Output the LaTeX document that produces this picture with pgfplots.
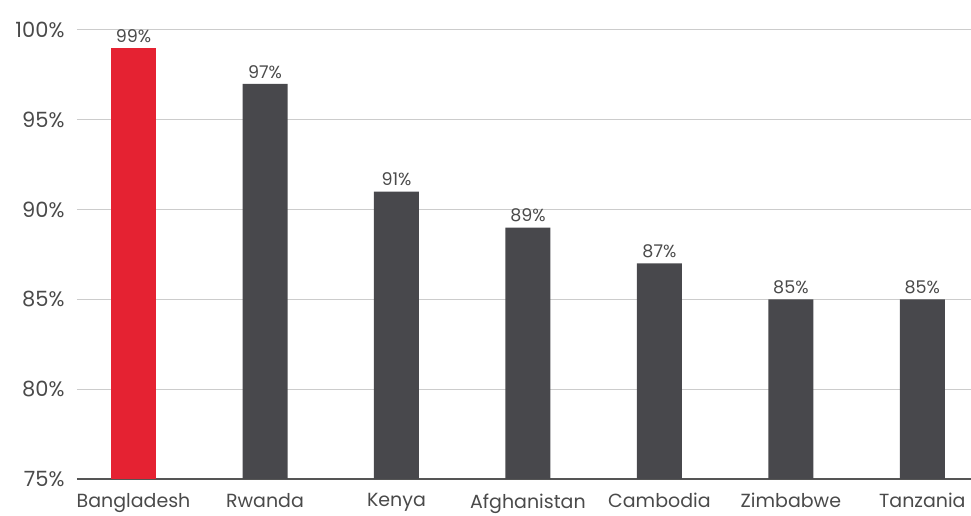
\documentclass[border=0pt]{standalone}
\usepackage{fontspec}
\setmainfont{Poppins}
\usepackage{pgfplots}
\pgfplotsset{compat=1.18}
\definecolor{barred}{HTML}{E52232}
\definecolor{bargray}{HTML}{48484C}
\definecolor{txtgray}{HTML}{4A4A4A}
\definecolor{gridgray}{HTML}{CCCCCC}
\definecolor{basegray}{HTML}{555555}
\begin{document}
\begin{tikzpicture}
\begin{axis}[
  at={(0,0)}, anchor=south west,
  scale only axis,
  width=894pt, height=449pt,
  ybar, bar width=45pt, bar shift=0pt,
  xmin=-0.43, xmax=6.37,
  ymin=75, ymax=100,
  ytick={75,80,85,90,95,100},
  xtick={0,1,2,3,4,5,6},
  xticklabels={Bangladesh,Rwanda,Kenya,Afghanistan,Cambodia,Zimbabwe,Tanzania},
  /pgf/number format/assume math mode=true,
  yticklabel={\pgfmathprintnumber{\tick}\%},
  ymajorgrids, grid style={gridgray, line width=1pt},
  axis x line*=bottom, axis y line*=left,
  x axis line style={basegray, line width=1.3pt},
  y axis line style={draw=none},
  major tick length=0pt,
  tick style={draw=none},
  ticklabel style={text=txtgray},
  yticklabel style={font=\fontsize{21}{24}\selectfont, xshift=-9pt},
  xticklabel style={font=\fontsize{19}{22}\selectfont, yshift=-11pt},
  nodes near coords={\fontsize{17.5}{20}\selectfont\pgfmathprintnumber{\pgfplotspointmeta}\%},
  every node near coord/.append style={text=txtgray, yshift=2pt},
  clip=false,
]
\addplot[fill=barred, draw=none] coordinates {(0,99)};
\addplot[fill=bargray, draw=none] coordinates {(1,97) (2,91) (3,89) (4,87) (5,85) (6,85)};
\end{axis}
\pgfresetboundingbox
\path[use as bounding box] (-77pt,-37pt) rectangle (894pt,479pt);
\end{tikzpicture}
\end{document}
